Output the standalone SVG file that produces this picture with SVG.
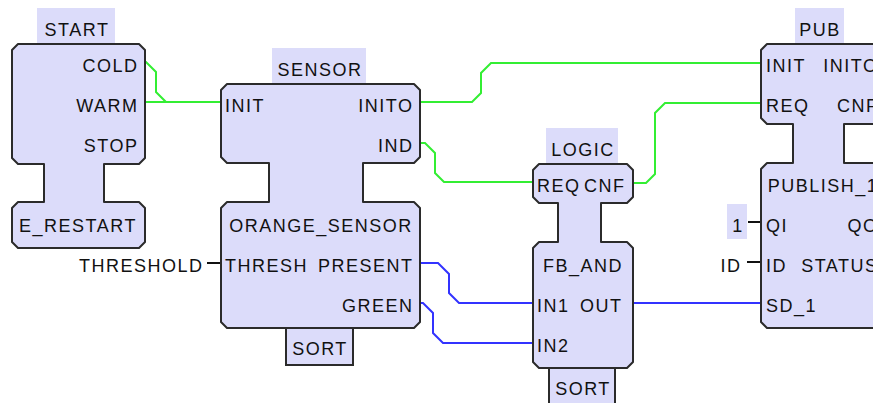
<svg xmlns="http://www.w3.org/2000/svg" width="873" height="403" viewBox="0 0 873 403">
<style>
.blk{fill:#dcdcfa;stroke:#2b2b2b;stroke-width:2;stroke-linejoin:round}
.lbl{fill:#dcdcfa;stroke:none}
.box{fill:#dcdcfa;stroke:#2b2b2b;stroke-width:2}
text{font-family:"Liberation Sans",Arial,sans-serif;font-size:18px;letter-spacing:1.5px;fill:#111}
.m{text-anchor:middle}
.e{text-anchor:end}
.g{fill:none;stroke:#33ee33;stroke-width:2}
.b{fill:none;stroke:#3333ff;stroke-width:2}
.k{fill:none;stroke:#111;stroke-width:2}
</style>
<rect width="873" height="403" fill="#ffffff"/>
<g id="connectors">
<path class="g" d="M145,62 H146 L156,72 V92 L166,102"/>
<path class="g" d="M145,102 H221"/>
<path class="g" d="M420,102 H472 L481,93 V73 L491,63 H761"/>
<path class="g" d="M420,143 H425 L435,153 V173 L444,182 H533"/>
<path class="g" d="M633,183 H646 L655,174 V113 L665,103 H761"/>
<path class="b" d="M420,263 H438 L449,274 V293 L459,303 H533"/>
<path class="b" d="M420,303 H423 L433,313 V333 L443,343 H533"/>
<path class="b" d="M633,303 H761"/>
<path class="k" d="M207,263 H221"/>
<path class="k" d="M748,222 H761"/>
<path class="k" d="M747,262 H761"/>
</g>
<g id="START">
<rect class="lbl" x="37" y="8" width="78" height="37"/>
<text class="m" x="77" y="36">START</text>
<path class="blk" d="M18,44 H139 L145,50 V158 L139,164 H104 V202 H139 L145,208 V242 L139,248 H18 L12,242 V208 L18,202 H44 V164 H18 L12,158 V50 Z"/>
<text class="e" x="138.5" y="72">COLD</text>
<text class="e" x="138.5" y="112">WARM</text>
<text class="e" x="138.5" y="152">STOP</text>
<text class="m" x="78" y="232">E_RESTART</text>
</g>
<g id="SENSOR">
<rect class="lbl" x="272" y="48" width="94" height="37"/>
<text class="m" x="320" y="76">SENSOR</text>
<rect class="box" x="286" y="326" width="67" height="39"/>
<text class="m" x="320" y="355">SORT</text>
<path class="blk" d="M227,84 H414 L420,90 V157 L414,163 H363 V202 H414 L420,208 V322 L414,328 H227 L221,322 V208 L227,202 H269 V163 H227 L221,157 V90 Z"/>
<text x="225" y="112">INIT</text>
<text class="e" x="413.5" y="112">INITO</text>
<text class="e" x="413.5" y="152">IND</text>
<text class="m" x="321" y="232">ORANGE_SENSOR</text>
<text x="225" y="272">THRESH</text>
<text class="e" x="413.5" y="272">PRESENT</text>
<text class="e" x="413.5" y="312">GREEN</text>
</g>
<g id="THRESHOLD">
<text class="e" x="203.5" y="272">THRESHOLD</text>
</g>
<g id="LOGIC">
<rect class="lbl" x="546" y="128" width="72" height="37"/>
<text class="m" x="583" y="156">LOGIC</text>
<rect class="box" x="549" y="366" width="66" height="40"/>
<text class="m" x="583" y="395">SORT</text>
<path class="blk" d="M539,164 H627 L633,170 V197 L627,203 H601 V242 H627 L633,248 V362 L627,368 H539 L533,362 V248 L539,242 H558 V203 H539 L533,197 V170 Z"/>
<text x="537" y="192">REQ</text>
<text class="e" x="625.5" y="192">CNF</text>
<text class="m" x="583" y="272">FB_AND</text>
<text x="537" y="312">IN1</text>
<text class="e" x="622.5" y="312">OUT</text>
<text x="537" y="352">IN2</text>
</g>
<g id="PUB">
<rect class="lbl" x="795" y="8" width="49" height="37"/>
<text class="m" x="820" y="36">PUB</text>
<rect class="lbl" x="727" y="204" width="20" height="35"/>
<text class="m" x="738" y="232">1</text>
<text class="e" x="741.5" y="272">ID</text>
<path class="blk" d="M767,44 H879 L885,50 V118 L879,124 H844 V163 H879 L885,169 V322 L879,328 H767 L761,322 V169 L767,163 H793 V124 H767 L761,118 V50 Z"/>
<text x="766" y="72">INIT</text>
<text class="e" x="878.5" y="72">INITO</text>
<text x="766" y="112">REQ</text>
<text class="e" x="878.5" y="112">CNF</text>
<text class="m" x="823" y="192">PUBLISH_1</text>
<text x="766" y="232">QI</text>
<text class="e" x="878.5" y="232">QO</text>
<text x="766" y="272">ID</text>
<text class="e" x="878.5" y="272">STATUS</text>
<text x="766" y="312">SD_1</text>
</g>
</svg>
